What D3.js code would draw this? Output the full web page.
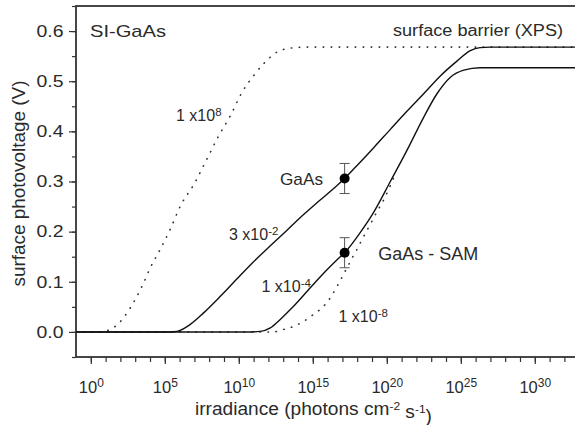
<!DOCTYPE html>
<html>
<head>
<meta charset="utf-8">
<script src="https://cdn.jsdelivr.net/npm/d3@7"></script>
<style>
  body { margin: 0; background: #fff; }
  text { font-family: "Liberation Sans", Arial, sans-serif; fill: #2a2a2a; }
</style>
</head>
<body>
<div id="chart"></div>
<script>
// log10(irradiance), surface photovoltage (V)
const dotted1e8 = [[-1,0],[0.5,0],[1.32,0.005],[1.88,0.017],[2.67,0.048],[3.46,0.091],[4.02,0.128],[4.7,0.165],[5.37,0.205],[6.05,0.251],[7.0,0.296],[7.85,0.345],[8.64,0.391],[9.43,0.431],[10.22,0.478],[11.0,0.511],[11.68,0.535],[12.58,0.558],[13.48,0.566],[14.6,0.568],[33,0.568]];
const solid3e2 = [[-1,0],[5.4,0],[5.82,0.001],[6.72,0.015],[7.62,0.038],[8.75,0.071],[9.88,0.106],[11.0,0.14],[12.13,0.172],[13.26,0.203],[14.38,0.234],[15.5,0.263],[16.6,0.291],[17.15,0.306],[17.99,0.332],[19.1,0.367],[20.24,0.404],[21.36,0.44],[22.49,0.475],[23.6,0.51],[24.74,0.54],[25.64,0.561],[26.3,0.567],[27,0.568],[33,0.568]];
const solid1e4 = [[-1,0],[10.8,0],[11.45,0.001],[12.13,0.008],[12.8,0.025],[13.7,0.051],[14.83,0.088],[15.73,0.117],[16.64,0.144],[17.15,0.158],[18.2,0.198],[19.1,0.238],[20.24,0.3],[21.36,0.362],[22.49,0.428],[23.39,0.475],[24.3,0.508],[25.2,0.522],[26.3,0.527],[33,0.527]];
const dotted1e8neg = [[-1,0],[12.3,0],[13.03,0.005],[13.7,0.011],[14.38,0.021],[15.05,0.035],[15.62,0.048],[16.18,0.068],[16.64,0.091],[16.97,0.109],[17.31,0.128],[17.65,0.147],[17.99,0.165],[18.43,0.19],[18.89,0.215],[19.34,0.24],[19.8,0.264],[20.24,0.292],[20.5,0.31]];
const points = [
  { name: "GaAs", x: 17.15, v: 0.306, err: 0.03 },
  { name: "GaAs - SAM", x: 17.15, v: 0.158, err: 0.03 }
];
const xMajor = [0, 5, 10, 15, 20, 25, 30];
const yMajor = [0, 0.1, 0.2, 0.3, 0.4, 0.5, 0.6];

const W = 575, H = 425;
const mLeft = 76, mTop = 6, mBottom = 357;

const svg = d3.select("#chart").append("svg")
    .attr("width", W)
    .attr("height", H);

const x = d3.scaleLinear().domain([-1, 33]).range([mLeft, mLeft + 34 * 14.8]);
const y = d3.scaleLinear().domain([-0.05, 0.65]).range([mBottom, mTop]);

// frame
svg.append("rect")
    .attr("x", x(-1)).attr("y", mTop)
    .attr("width", x(33) - x(-1)).attr("height", mBottom - mTop)
    .attr("fill", "none").attr("stroke", "#333").attr("stroke-width", 1.8);

// x axis: minor then major
const xMinor = d3.range(0, 33);
svg.append("g")
    .attr("transform", `translate(0,${mBottom})`)
    .call(d3.axisBottom(x).tickValues(xMinor).tickSize(5).tickFormat(""))
    .call(g => g.select(".domain").remove());
const gx = svg.append("g")
    .attr("transform", `translate(0,${mBottom})`)
    .call(d3.axisBottom(x).tickValues(xMajor).tickSize(7).tickPadding(17))
    .call(g => g.select(".domain").remove());
gx.selectAll(".tick text")
    .style("font-size", "16.5px")
    .attr("fill", "#2a2a2a")
    .each(function(d) {
        const t = d3.select(this).text("10");
        t.append("tspan").attr("dy", "-0.45em").style("font-size", "12px").text(d);
    });

// y axis
const yMinor = d3.range(-0.05, 0.651, 0.05);
svg.append("g")
    .attr("transform", `translate(${mLeft},0)`)
    .call(d3.axisLeft(y).tickValues(yMinor).tickSize(4).tickFormat(""))
    .call(g => g.select(".domain").remove());
svg.append("g")
    .attr("transform", `translate(${mLeft},0)`)
    .call(d3.axisLeft(y).tickValues(yMajor).tickSize(7).tickPadding(5.5).tickFormat(d3.format(".1f")))
    .call(g => g.select(".domain").remove())
    .selectAll("text")
    .style("font-size", "16.5px")
    .attr("textLength", 27)
    .attr("lengthAdjust", "spacingAndGlyphs")
    .attr("fill", "#2a2a2a");
svg.selectAll(".tick line").attr("stroke", "#333").attr("stroke-width", 1.2);

// axis titles
svg.append("text")
    .attr("transform", "translate(25,183.5) rotate(-90)")
    .attr("text-anchor", "middle")
    .attr("textLength", 206)
    .attr("lengthAdjust", "spacingAndGlyphs")
    .style("font-size", "18px")
    .text("surface photovoltage (V)");

const xt = svg.append("text")
    .attr("x", 195).attr("y", 415)
    .attr("textLength", 237)
    .attr("lengthAdjust", "spacingAndGlyphs")
    .style("font-size", "17.5px");
xt.append("tspan").text("irradiance (photons cm");
xt.append("tspan").attr("dy", "-0.5em").style("font-size", "11px").text("-2");
xt.append("tspan").attr("dy", "0.5em").text(" s");
xt.append("tspan").attr("dy", "-0.5em").style("font-size", "11px").text("-1");
xt.append("tspan").attr("dy", "0.5em").text(")");

// curves
svg.append("clipPath").attr("id", "clip")
  .append("rect").attr("x", x(-1)).attr("y", mTop).attr("width", x(33) - x(-1)).attr("height", mBottom - mTop);
const line = d3.line()
    .x(d => x(d[0]))
    .y(d => y(d[1]))
    .curve(d3.curveMonotoneX);
const plot = svg.append("g").attr("clip-path", "url(#clip)");

plot.append("path").datum(dotted1e8)
    .attr("d", line).attr("fill", "none")
    .attr("stroke", "#333").attr("stroke-width", 1.6)
    .attr("stroke-linecap", "round")
    .attr("stroke-dasharray", "0.5 7.5");
plot.append("path").datum(dotted1e8neg)
    .attr("d", line).attr("fill", "none")
    .attr("stroke", "#333").attr("stroke-width", 1.6)
    .attr("stroke-linecap", "round")
    .attr("stroke-dasharray", "0.5 7.5");
plot.append("path").datum(solid3e2)
    .attr("d", line).attr("fill", "none")
    .attr("stroke", "#111").attr("stroke-width", 1.4);
plot.append("path").datum(solid1e4)
    .attr("d", line).attr("fill", "none")
    .attr("stroke", "#111").attr("stroke-width", 1.4);

// error bars and points
const eb = plot.selectAll(".pt").data(points).enter().append("g");
eb.append("line")
    .attr("x1", d => x(d.x)).attr("x2", d => x(d.x))
    .attr("y1", d => y(d.v - d.err)).attr("y2", d => y(d.v + d.err))
    .attr("stroke", "#555").attr("stroke-width", 1);
eb.append("line")
    .attr("x1", d => x(d.x) - 5).attr("x2", d => x(d.x) + 5)
    .attr("y1", d => y(d.v + d.err)).attr("y2", d => y(d.v + d.err))
    .attr("stroke", "#555").attr("stroke-width", 1);
eb.append("line")
    .attr("x1", d => x(d.x) - 5).attr("x2", d => x(d.x) + 5)
    .attr("y1", d => y(d.v - d.err)).attr("y2", d => y(d.v - d.err))
    .attr("stroke", "#555").attr("stroke-width", 1);
eb.append("circle")
    .attr("cx", d => x(d.x)).attr("cy", d => y(d.v))
    .attr("r", 5).attr("fill", "#000");

// labels
function label(tx, ty, base, sup, size, len) {
    const t = svg.append("text").attr("x", tx).attr("y", ty).style("font-size", size + "px");
    if (len) t.attr("textLength", len).attr("lengthAdjust", "spacingAndGlyphs");
    t.append("tspan").text(base);
    if (sup) t.append("tspan").attr("dy", "-0.45em").style("font-size", (size - 4.5) + "px").text(sup);
    return t;
}
label(90, 36.5, "SI-GaAs", null, 17, 76);
label(393, 36, "surface barrier (XPS)", null, 16, 170);
label(176, 120.7, "1 x10", "8", 16);
label(280, 185, "GaAs", null, 17, 43);
label(229, 240, "3 x10", "-2", 16);
label(261.5, 291.7, "1 x10", "-4", 16);
label(378.3, 260, "GaAs - SAM", null, 17.5, 100);
label(338.5, 321.7, "1 x10", "-8", 16);
</script>
</body>
</html>
